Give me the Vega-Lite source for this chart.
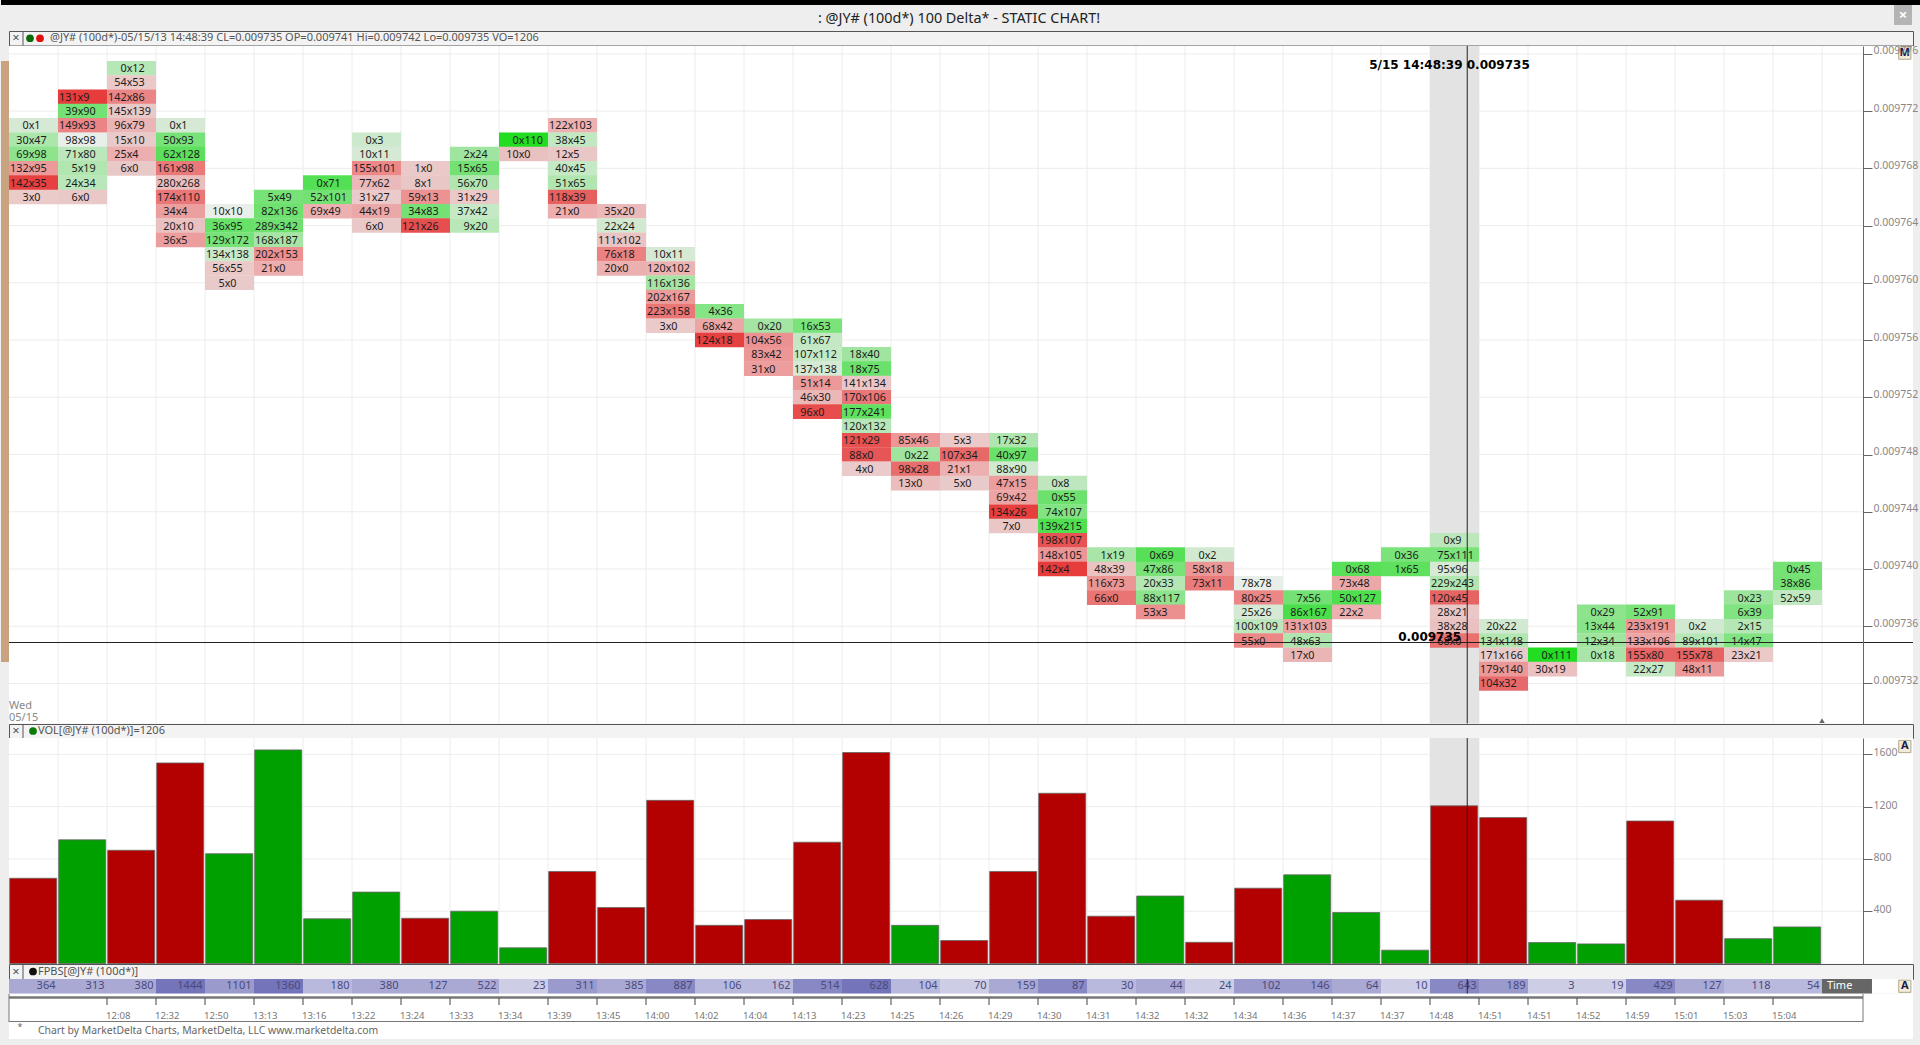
{"$schema":"https://vega.github.io/schema/vega-lite/v6.json","background":"#eeeeee","padding":0,"bounds":"flush","spacing":0,
"data":{"values":[{"k":1}]},
"config":{"view":{"stroke":null},"font":"Noto Sans","text":{"font":"Noto Sans"}},
"datasets":{
"edges":[{"e":0.5},{"e":1.5},{"e":2.5},{"e":3.5},{"e":4.5},{"e":5.5},{"e":6.5},{"e":7.5},{"e":8.5},{"e":9.5},{"e":10.5},{"e":11.5},{"e":12.5},{"e":13.5},{"e":14.5},{"e":15.5},{"e":16.5},{"e":17.5},{"e":18.5},{"e":19.5},{"e":20.5},{"e":21.5},{"e":22.5},{"e":23.5},{"e":24.5},{"e":25.5},{"e":26.5},{"e":27.5},{"e":28.5},{"e":29.5},{"e":30.5},{"e":31.5},{"e":32.5},{"e":33.5},{"e":34.5},{"e":35.5},{"e":36.5}],
"levels":[{"p":0.009776},{"p":0.009772},{"p":0.009768},{"p":0.009764},{"p":0.00976},{"p":0.009756},{"p":0.009752},{"p":0.009748},{"p":0.009744},{"p":0.00974},{"p":0.009736},{"p":0.009732}],
"vlevels":[{"p":400},{"p":800},{"p":1200},{"p":1600}],
"cells":[
{"bar":0,"price":0.009771,"cell":"0x1","delta":1},{"bar":0,"price":0.00977,"cell":"30x47","delta":17},{"bar":0,"price":0.009769,"cell":"69x98","delta":29},{"bar":0,"price":0.009768,"cell":"132x95","delta":-37},{"bar":0,"price":0.009767,"cell":"142x35","delta":-107},{"bar":0,"price":0.009766,"cell":"3x0","delta":-3},
{"bar":1,"price":0.009773,"cell":"131x9","delta":-122},{"bar":1,"price":0.009772,"cell":"39x90","delta":51},{"bar":1,"price":0.009771,"cell":"149x93","delta":-56},{"bar":1,"price":0.00977,"cell":"98x98","delta":0},{"bar":1,"price":0.009769,"cell":"71x80","delta":9},{"bar":1,"price":0.009768,"cell":"5x19","delta":14},{"bar":1,"price":0.009767,"cell":"24x34","delta":10},{"bar":1,"price":0.009766,"cell":"6x0","delta":-6},
{"bar":2,"price":0.009775,"cell":"0x12","delta":12},{"bar":2,"price":0.009774,"cell":"54x53","delta":-1},{"bar":2,"price":0.009773,"cell":"142x86","delta":-56},{"bar":2,"price":0.009772,"cell":"145x139","delta":-6},{"bar":2,"price":0.009771,"cell":"96x79","delta":-17},{"bar":2,"price":0.00977,"cell":"15x10","delta":-5},{"bar":2,"price":0.009769,"cell":"25x4","delta":-21},{"bar":2,"price":0.009768,"cell":"6x0","delta":-6},
{"bar":3,"price":0.009771,"cell":"0x1","delta":1},{"bar":3,"price":0.00977,"cell":"50x93","delta":43},{"bar":3,"price":0.009769,"cell":"62x128","delta":66},{"bar":3,"price":0.009768,"cell":"161x98","delta":-63},{"bar":3,"price":0.009767,"cell":"280x268","delta":-12},{"bar":3,"price":0.009766,"cell":"174x110","delta":-64},{"bar":3,"price":0.009765,"cell":"34x4","delta":-30},{"bar":3,"price":0.009764,"cell":"20x10","delta":-10},{"bar":3,"price":0.009763,"cell":"36x5","delta":-31},
{"bar":4,"price":0.009765,"cell":"10x10","delta":0},{"bar":4,"price":0.009764,"cell":"36x95","delta":59},{"bar":4,"price":0.009763,"cell":"129x172","delta":43},{"bar":4,"price":0.009762,"cell":"134x138","delta":4},{"bar":4,"price":0.009761,"cell":"56x55","delta":-1},{"bar":4,"price":0.00976,"cell":"5x0","delta":-5},
{"bar":5,"price":0.009766,"cell":"5x49","delta":44},{"bar":5,"price":0.009765,"cell":"82x136","delta":54},{"bar":5,"price":0.009764,"cell":"289x342","delta":53},{"bar":5,"price":0.009763,"cell":"168x187","delta":19},{"bar":5,"price":0.009762,"cell":"202x153","delta":-49},{"bar":5,"price":0.009761,"cell":"21x0","delta":-21},
{"bar":6,"price":0.009767,"cell":"0x71","delta":71},{"bar":6,"price":0.009766,"cell":"52x101","delta":49},{"bar":6,"price":0.009765,"cell":"69x49","delta":-20},
{"bar":7,"price":0.00977,"cell":"0x3","delta":3},{"bar":7,"price":0.009769,"cell":"10x11","delta":1},{"bar":7,"price":0.009768,"cell":"155x101","delta":-54},{"bar":7,"price":0.009767,"cell":"77x62","delta":-15},{"bar":7,"price":0.009766,"cell":"31x27","delta":-4},{"bar":7,"price":0.009765,"cell":"44x19","delta":-25},{"bar":7,"price":0.009764,"cell":"6x0","delta":-6},
{"bar":8,"price":0.009768,"cell":"1x0","delta":-1},{"bar":8,"price":0.009767,"cell":"8x1","delta":-7},{"bar":8,"price":0.009766,"cell":"59x13","delta":-46},{"bar":8,"price":0.009765,"cell":"34x83","delta":49},{"bar":8,"price":0.009764,"cell":"121x26","delta":-95},
{"bar":9,"price":0.009769,"cell":"2x24","delta":22},{"bar":9,"price":0.009768,"cell":"15x65","delta":50},{"bar":9,"price":0.009767,"cell":"56x70","delta":14},{"bar":9,"price":0.009766,"cell":"31x29","delta":-2},{"bar":9,"price":0.009765,"cell":"37x42","delta":5},{"bar":9,"price":0.009764,"cell":"9x20","delta":11},
{"bar":10,"price":0.00977,"cell":"0x110","delta":110},{"bar":10,"price":0.009769,"cell":"10x0","delta":-10},
{"bar":11,"price":0.009771,"cell":"122x103","delta":-19},{"bar":11,"price":0.00977,"cell":"38x45","delta":7},{"bar":11,"price":0.009769,"cell":"12x5","delta":-7},{"bar":11,"price":0.009768,"cell":"40x45","delta":5},{"bar":11,"price":0.009767,"cell":"51x65","delta":14},{"bar":11,"price":0.009766,"cell":"118x39","delta":-79},{"bar":11,"price":0.009765,"cell":"21x0","delta":-21},
{"bar":12,"price":0.009765,"cell":"35x20","delta":-15},{"bar":12,"price":0.009764,"cell":"22x24","delta":2},{"bar":12,"price":0.009763,"cell":"111x102","delta":-9},{"bar":12,"price":0.009762,"cell":"76x18","delta":-58},{"bar":12,"price":0.009761,"cell":"20x0","delta":-20},
{"bar":13,"price":0.009762,"cell":"10x11","delta":1},{"bar":13,"price":0.009761,"cell":"120x102","delta":-18},{"bar":13,"price":0.00976,"cell":"116x136","delta":20},{"bar":13,"price":0.009759,"cell":"202x167","delta":-35},{"bar":13,"price":0.009758,"cell":"223x158","delta":-65},{"bar":13,"price":0.009757,"cell":"3x0","delta":-3},
{"bar":14,"price":0.009758,"cell":"4x36","delta":32},{"bar":14,"price":0.009757,"cell":"68x42","delta":-26},{"bar":14,"price":0.009756,"cell":"124x18","delta":-106},
{"bar":15,"price":0.009757,"cell":"0x20","delta":20},{"bar":15,"price":0.009756,"cell":"104x56","delta":-48},{"bar":15,"price":0.009755,"cell":"83x42","delta":-41},{"bar":15,"price":0.009754,"cell":"31x0","delta":-31},
{"bar":16,"price":0.009757,"cell":"16x53","delta":37},{"bar":16,"price":0.009756,"cell":"61x67","delta":6},{"bar":16,"price":0.009755,"cell":"107x112","delta":5},{"bar":16,"price":0.009754,"cell":"137x138","delta":1},{"bar":16,"price":0.009753,"cell":"51x14","delta":-37},{"bar":16,"price":0.009752,"cell":"46x30","delta":-16},{"bar":16,"price":0.009751,"cell":"96x0","delta":-96},
{"bar":17,"price":0.009755,"cell":"18x40","delta":22},{"bar":17,"price":0.009754,"cell":"18x75","delta":57},{"bar":17,"price":0.009753,"cell":"141x134","delta":-7},{"bar":17,"price":0.009752,"cell":"170x106","delta":-64},{"bar":17,"price":0.009751,"cell":"177x241","delta":64},{"bar":17,"price":0.00975,"cell":"120x132","delta":12},{"bar":17,"price":0.009749,"cell":"121x29","delta":-92},{"bar":17,"price":0.009748,"cell":"88x0","delta":-88},{"bar":17,"price":0.009747,"cell":"4x0","delta":-4},
{"bar":18,"price":0.009749,"cell":"85x46","delta":-39},{"bar":18,"price":0.009748,"cell":"0x22","delta":22},{"bar":18,"price":0.009747,"cell":"98x28","delta":-70},{"bar":18,"price":0.009746,"cell":"13x0","delta":-13},
{"bar":19,"price":0.009749,"cell":"5x3","delta":-2},{"bar":19,"price":0.009748,"cell":"107x34","delta":-73},{"bar":19,"price":0.009747,"cell":"21x1","delta":-20},{"bar":19,"price":0.009746,"cell":"5x0","delta":-5},
{"bar":20,"price":0.009749,"cell":"17x32","delta":15},{"bar":20,"price":0.009748,"cell":"40x97","delta":57},{"bar":20,"price":0.009747,"cell":"88x90","delta":2},{"bar":20,"price":0.009746,"cell":"47x15","delta":-32},{"bar":20,"price":0.009745,"cell":"69x42","delta":-27},{"bar":20,"price":0.009744,"cell":"134x26","delta":-108},{"bar":20,"price":0.009743,"cell":"7x0","delta":-7},
{"bar":21,"price":0.009746,"cell":"0x8","delta":8},{"bar":21,"price":0.009745,"cell":"0x55","delta":55},{"bar":21,"price":0.009744,"cell":"74x107","delta":33},{"bar":21,"price":0.009743,"cell":"139x215","delta":76},{"bar":21,"price":0.009742,"cell":"198x107","delta":-91},{"bar":21,"price":0.009741,"cell":"148x105","delta":-43},{"bar":21,"price":0.00974,"cell":"142x4","delta":-138},
{"bar":22,"price":0.009741,"cell":"1x19","delta":18},{"bar":22,"price":0.00974,"cell":"48x39","delta":-9},{"bar":22,"price":0.009739,"cell":"116x73","delta":-43},{"bar":22,"price":0.009738,"cell":"66x0","delta":-66},
{"bar":23,"price":0.009741,"cell":"0x69","delta":69},{"bar":23,"price":0.00974,"cell":"47x86","delta":39},{"bar":23,"price":0.009739,"cell":"20x33","delta":13},{"bar":23,"price":0.009738,"cell":"88x117","delta":29},{"bar":23,"price":0.009737,"cell":"53x3","delta":-50},
{"bar":24,"price":0.009741,"cell":"0x2","delta":2},{"bar":24,"price":0.00974,"cell":"58x18","delta":-40},{"bar":24,"price":0.009739,"cell":"73x11","delta":-62},
{"bar":25,"price":0.009739,"cell":"78x78","delta":0},{"bar":25,"price":0.009738,"cell":"80x25","delta":-55},{"bar":25,"price":0.009737,"cell":"25x26","delta":1},{"bar":25,"price":0.009736,"cell":"100x109","delta":9},{"bar":25,"price":0.009735,"cell":"55x0","delta":-55},
{"bar":26,"price":0.009738,"cell":"7x56","delta":49},{"bar":26,"price":0.009737,"cell":"86x167","delta":81},{"bar":26,"price":0.009736,"cell":"131x103","delta":-28},{"bar":26,"price":0.009735,"cell":"48x63","delta":15},{"bar":26,"price":0.009734,"cell":"17x0","delta":-17},
{"bar":27,"price":0.00974,"cell":"0x68","delta":68},{"bar":27,"price":0.009739,"cell":"73x48","delta":-25},{"bar":27,"price":0.009738,"cell":"50x127","delta":77},{"bar":27,"price":0.009737,"cell":"22x2","delta":-20},
{"bar":28,"price":0.009741,"cell":"0x36","delta":36},{"bar":28,"price":0.00974,"cell":"1x65","delta":64},
{"bar":29,"price":0.009742,"cell":"0x9","delta":9},{"bar":29,"price":0.009741,"cell":"75x111","delta":36},{"bar":29,"price":0.00974,"cell":"95x96","delta":1},{"bar":29,"price":0.009739,"cell":"229x243","delta":14},{"bar":29,"price":0.009738,"cell":"120x45","delta":-75},{"bar":29,"price":0.009737,"cell":"28x21","delta":-7},{"bar":29,"price":0.009736,"cell":"38x28","delta":-10},{"bar":29,"price":0.009735,"cell":"68x0","delta":-68},
{"bar":30,"price":0.009736,"cell":"20x22","delta":2},{"bar":30,"price":0.009735,"cell":"134x148","delta":14},{"bar":30,"price":0.009734,"cell":"171x166","delta":-5},{"bar":30,"price":0.009733,"cell":"179x140","delta":-39},{"bar":30,"price":0.009732,"cell":"104x32","delta":-72},
{"bar":31,"price":0.009734,"cell":"0x111","delta":111},{"bar":31,"price":0.009733,"cell":"30x19","delta":-11},
{"bar":32,"price":0.009737,"cell":"0x29","delta":29},{"bar":32,"price":0.009736,"cell":"13x44","delta":31},{"bar":32,"price":0.009735,"cell":"12x34","delta":22},{"bar":32,"price":0.009734,"cell":"0x18","delta":18},
{"bar":33,"price":0.009737,"cell":"52x91","delta":39},{"bar":33,"price":0.009736,"cell":"233x191","delta":-42},{"bar":33,"price":0.009735,"cell":"133x106","delta":-27},{"bar":33,"price":0.009734,"cell":"155x80","delta":-75},{"bar":33,"price":0.009733,"cell":"22x27","delta":5},
{"bar":34,"price":0.009736,"cell":"0x2","delta":2},{"bar":34,"price":0.009735,"cell":"89x101","delta":12},{"bar":34,"price":0.009734,"cell":"155x78","delta":-77},{"bar":34,"price":0.009733,"cell":"48x11","delta":-37},
{"bar":35,"price":0.009738,"cell":"0x23","delta":23},{"bar":35,"price":0.009737,"cell":"6x39","delta":33},{"bar":35,"price":0.009736,"cell":"2x15","delta":13},{"bar":35,"price":0.009735,"cell":"14x47","delta":33},{"bar":35,"price":0.009734,"cell":"23x21","delta":-2},
{"bar":36,"price":0.00974,"cell":"0x45","delta":45},{"bar":36,"price":0.009739,"cell":"38x86","delta":48},{"bar":36,"price":0.009738,"cell":"52x59","delta":7}
],
"bars":[{"bar":0,"vol":652,"side":"down"},{"bar":1,"vol":946,"side":"up"},{"bar":2,"vol":866,"side":"down"},{"bar":3,"vol":1534,"side":"down"},{"bar":4,"vol":840,"side":"up"},{"bar":5,"vol":1634,"side":"up"},{"bar":6,"vol":342,"side":"up"},{"bar":7,"vol":546,"side":"up"},{"bar":8,"vol":346,"side":"down"},{"bar":9,"vol":400,"side":"up"},{"bar":10,"vol":120,"side":"up"},{"bar":11,"vol":704,"side":"down"},{"bar":12,"vol":428,"side":"down"},{"bar":13,"vol":1248,"side":"down"},{"bar":14,"vol":292,"side":"down"},{"bar":15,"vol":336,"side":"down"},{"bar":16,"vol":928,"side":"down"},{"bar":17,"vol":1614,"side":"down"},{"bar":18,"vol":292,"side":"up"},{"bar":19,"vol":176,"side":"down"},{"bar":20,"vol":704,"side":"down"},{"bar":21,"vol":1302,"side":"down"},{"bar":22,"vol":362,"side":"down"},{"bar":23,"vol":516,"side":"up"},{"bar":24,"vol":162,"side":"down"},{"bar":25,"vol":576,"side":"down"},{"bar":26,"vol":678,"side":"up"},{"bar":27,"vol":390,"side":"up"},{"bar":28,"vol":102,"side":"up"},{"bar":29,"vol":1206,"side":"down"},{"bar":30,"vol":1116,"side":"down"},{"bar":31,"vol":160,"side":"up"},{"bar":32,"vol":150,"side":"up"},{"bar":33,"vol":1090,"side":"down"},{"bar":34,"vol":484,"side":"down"},{"bar":35,"vol":190,"side":"up"},{"bar":36,"vol":280,"side":"up"}],
"strip":[{"bar":0,"net":364,"shade":3},{"bar":1,"net":313,"shade":3},{"bar":2,"net":380,"shade":3},{"bar":3,"net":1444,"shade":6},{"bar":4,"net":1101,"shade":4},{"bar":5,"net":1360,"shade":6},{"bar":6,"net":180,"shade":2},{"bar":7,"net":380,"shade":3},{"bar":8,"net":127,"shade":3},{"bar":9,"net":522,"shade":3},{"bar":10,"net":23,"shade":1},{"bar":11,"net":311,"shade":4},{"bar":12,"net":385,"shade":3},{"bar":13,"net":887,"shade":5},{"bar":14,"net":106,"shade":2},{"bar":15,"net":162,"shade":2},{"bar":16,"net":514,"shade":5},{"bar":17,"net":628,"shade":6},{"bar":18,"net":104,"shade":2},{"bar":19,"net":70,"shade":1},{"bar":20,"net":159,"shade":3},{"bar":21,"net":87,"shade":5},{"bar":22,"net":30,"shade":2},{"bar":23,"net":44,"shade":3},{"bar":24,"net":24,"shade":1},{"bar":25,"net":102,"shade":4},{"bar":26,"net":146,"shade":4},{"bar":27,"net":64,"shade":3},{"bar":28,"net":10,"shade":1},{"bar":29,"net":643,"shade":5},{"bar":30,"net":189,"shade":4},{"bar":31,"net":3,"shade":1},{"bar":32,"net":19,"shade":1},{"bar":33,"net":429,"shade":5},{"bar":34,"net":127,"shade":3},{"bar":35,"net":118,"shade":2},{"bar":36,"net":54,"shade":2}],
"times":[{"edge":1.5,"time":"12:08"},{"edge":2.5,"time":"12:32"},{"edge":3.5,"time":"12:50"},{"edge":4.5,"time":"13:13"},{"edge":5.5,"time":"13:16"},{"edge":6.5,"time":"13:22"},{"edge":7.5,"time":"13:24"},{"edge":8.5,"time":"13:33"},{"edge":9.5,"time":"13:34"},{"edge":10.5,"time":"13:39"},{"edge":11.5,"time":"13:45"},{"edge":12.5,"time":"14:00"},{"edge":13.5,"time":"14:02"},{"edge":14.5,"time":"14:04"},{"edge":15.5,"time":"14:13"},{"edge":16.5,"time":"14:23"},{"edge":17.5,"time":"14:25"},{"edge":18.5,"time":"14:26"},{"edge":19.5,"time":"14:29"},{"edge":20.5,"time":"14:30"},{"edge":21.5,"time":"14:31"},{"edge":22.5,"time":"14:32"},{"edge":23.5,"time":"14:32"},{"edge":24.5,"time":"14:34"},{"edge":25.5,"time":"14:36"},{"edge":26.5,"time":"14:37"},{"edge":27.5,"time":"14:37"},{"edge":28.5,"time":"14:48"},{"edge":29.5,"time":"14:51"},{"edge":30.5,"time":"14:51"},{"edge":31.5,"time":"14:52"},{"edge":32.5,"time":"14:59"},{"edge":33.5,"time":"15:01"},{"edge":34.5,"time":"15:03"},{"edge":35.5,"time":"15:04"}]
},
"vconcat":[
{"width":1904,"height":31,"layer":[
{"mark":{"type":"rect","color":"#000000"},"encoding":{"x":{"datum":0,"type":"quantitative","scale":{"domain":[8,1912]},"axis":null},"x2":{"datum":1920},"y":{"datum":0,"type":"quantitative","scale":{"domain":[31,0]},"axis":null},"y2":{"datum":5}}},
{"mark":{"type":"rect","color":"#b4b4b4"},"encoding":{"x":{"datum":1893,"type":"quantitative","scale":{"domain":[8,1912]},"axis":null},"x2":{"datum":1911},"y":{"datum":5,"type":"quantitative","scale":{"domain":[31,0]},"axis":null},"y2":{"datum":25}}},
{"mark":{"type":"text","color":"#ffffff","fontSize":15,"fontWeight":"bold"},"encoding":{"x":{"datum":1902,"type":"quantitative","scale":{"domain":[8,1912]},"axis":null},"y":{"datum":15,"type":"quantitative","scale":{"domain":[31,0]},"axis":null},"text":{"value":"×"}}},
{"mark":{"type":"text","color":"#222222","fontSize":14.4},"encoding":{"x":{"datum":958,"type":"quantitative","scale":{"domain":[8,1912]},"axis":null},"y":{"datum":19,"type":"quantitative","scale":{"domain":[31,0]},"axis":null},"text":{"value":": @JY# (100d*) 100 Delta* - STATIC CHART!"}}}
]},
{"width":1904,"height":14.5,"view":{"fill":"#f3f3f3","stroke":"#555555"},"layer":[
{"mark":{"type":"rule","color":"#555555"},"encoding":{"x":{"datum":22,"type":"quantitative","scale":{"domain":[8,1912]},"axis":null}}},
{"mark":{"type":"text","color":"#555555","fontSize":13},"encoding":{"x":{"datum":15,"type":"quantitative","scale":{"domain":[8,1912]},"axis":null},"text":{"value":"×"}}},
{"mark":{"type":"point","filled":true,"color":"#0b6b0b","size":60,"opacity":1},"encoding":{"x":{"datum":29,"type":"quantitative","scale":{"domain":[8,1912]},"axis":null}}},
{"mark":{"type":"point","filled":true,"color":"#e01010","size":60,"opacity":1},"encoding":{"x":{"datum":39,"type":"quantitative","scale":{"domain":[8,1912]},"axis":null}}},
{"mark":{"type":"text","color":"#555555","fontSize":11,"align":"left"},"encoding":{"x":{"datum":49,"type":"quantitative","scale":{"domain":[8,1912]},"axis":null},"text":{"value":"@JY# (100d*)-05/15/13 14:48:39 CL=0.009735 OP=0.009741 Hi=0.009742 Lo=0.009735 VO=1206"}}}
]},
{"width":1854,"height":677.5,"view":{"fill":"#ffffff"},"layer":[
{"mark":{"type":"rect","color":"#ffffff"},"encoding":{"x":{"datum":37.3367,"type":"quantitative","scale":{"domain":[-0.5,37.3367]},"axis":null},"x2":{"datum":38.3571}}},
{"mark":{"type":"rect","color":"#c9a27f"},"encoding":{"x":{"datum":-0.6633,"type":"quantitative","scale":{"domain":[-0.5,37.3367]},"axis":null},"x2":{"datum":-0.5},"y":{"datum":0.0097755,"type":"quantitative","scale":{"domain":[0.0097292,0.00977655]},"axis":{"orient":"right","values":[0.009776,0.009772,0.009768,0.009764,0.00976,0.009756,0.009752,0.009748,0.009744,0.00974,0.009736,0.009732],"format":".6f","grid":false,"tickSize":9,"tickColor":"#666666","domainColor":"#666666","labelColor":"#888888","labelFontSize":10.5,"labelFont":"Noto Sans","labelPadding":1,"labelOffset":-3,"title":null,"zindex":1}},"y2":{"datum":0.0097335}}},
{"data":{"name":"edges"},"mark":{"type":"rule","color":"#ececec"},"encoding":{"x":{"field":"e","type":"quantitative","scale":{"domain":[-0.5,37.3367]},"axis":null}}},
{"data":{"name":"levels"},"mark":{"type":"rule","color":"#ececec"},"encoding":{"y":{"field":"p","type":"quantitative","scale":{"domain":[0.0097292,0.00977655]}}}},
{"mark":{"type":"rect","color":"#e3e3e3"},"encoding":{"x":{"datum":28.5,"type":"quantitative","scale":{"domain":[-0.5,37.3367]},"axis":null},"x2":{"datum":29.5}}},
{"data":{"name":"cells"},"mark":{"type":"tick","orient":"horizontal","thickness":14.6,"size":49,"bandSize":49,"opacity":1},"encoding":{"x":{"field":"bar","type":"quantitative","scale":{"domain":[-0.5,37.3367]},"axis":null},"y":{"field":"price","type":"quantitative","scale":{"domain":[0.0097292,0.00977655]}},"color":{"field":"delta","type":"quantitative","legend":null,"scale":{"domain":[-110,-75,-50,-30,-20,-5,-1,0,1,5,20,36,50,70,110],"range":["#e63c3c","#e76464","#ec8f8f","#ec9f9f","#ecb0b0","#e9caca","#ecc9c9","#e8eee8","#d5e9d5","#c5e8c5","#a4e5a4","#7ae37a","#74e174","#55e055","#22dd22"],"clamp":true}}}},
{"data":{"name":"cells"},"mark":{"type":"text","fontSize":10.8,"color":"#1c1c1c","dy":1,"dx":{"expr":"(length(datum.cell)-1-2*indexof(datum.cell,'x'))*3.1-2"}},"encoding":{"x":{"field":"bar","type":"quantitative","scale":{"domain":[-0.5,37.3367]},"axis":null},"y":{"field":"price","type":"quantitative","scale":{"domain":[0.0097292,0.00977655]}},"text":{"field":"cell"}}},
{"mark":{"type":"rule","color":"#222222","strokeWidth":1},"encoding":{"x":{"datum":-0.5,"type":"quantitative","scale":{"domain":[-0.5,37.3367]},"axis":null},"x2":{"datum":38.3571},"y":{"datum":0.00973486,"type":"quantitative","scale":{"domain":[0.0097292,0.00977655]}}}},
{"mark":{"type":"rule","color":"#222222","strokeWidth":1},"encoding":{"x":{"datum":29.26,"type":"quantitative","scale":{"domain":[-0.5,37.3367]},"axis":null}}},
{"mark":{"type":"text","font":"DejaVu Sans","fontWeight":"bold","fontSize":12,"color":"#000000","align":"left","dy":1},"encoding":{"x":{"datum":27.26,"type":"quantitative","scale":{"domain":[-0.5,37.3367]},"axis":null},"y":{"datum":0.0097753,"type":"quantitative","scale":{"domain":[0.0097292,0.00977655]}},"text":{"value":"5/15 14:48:39  0.009735"}}},
{"mark":{"type":"text","font":"DejaVu Sans","fontWeight":"bold","fontSize":12,"color":"#000000","align":"left"},"encoding":{"x":{"datum":27.85,"type":"quantitative","scale":{"domain":[-0.5,37.3367]},"axis":null},"y":{"datum":0.00973528,"type":"quantitative","scale":{"domain":[0.0097292,0.00977655]}},"text":{"value":"0.009735"}}},
{"mark":{"type":"text","fontSize":11,"color":"#888888","align":"left"},"encoding":{"x":{"datum":-0.5,"type":"quantitative","scale":{"domain":[-0.5,37.3367]},"axis":null},"y":{"datum":0.0097304,"type":"quantitative","scale":{"domain":[0.0097292,0.00977655]}},"text":{"value":"Wed"}}},
{"mark":{"type":"text","fontSize":11,"color":"#888888","align":"left"},"encoding":{"x":{"datum":-0.5,"type":"quantitative","scale":{"domain":[-0.5,37.3367]},"axis":null},"y":{"datum":0.0097296,"type":"quantitative","scale":{"domain":[0.0097292,0.00977655]}},"text":{"value":"05/15"}}},
{"mark":{"type":"point","shape":"triangle-up","filled":true,"color":"#666666","size":30,"opacity":1},"encoding":{"x":{"datum":36.5,"type":"quantitative","scale":{"domain":[-0.5,37.3367]},"axis":null},"y":{"datum":0.0097294,"type":"quantitative","scale":{"domain":[0.0097292,0.00977655]}}}},
{"mark":{"type":"point","shape":"square","filled":true,"color":"#f1ebd9","stroke":"#b5a888","strokeWidth":1,"size":150,"opacity":1},"encoding":{"x":{"datum":38.19,"type":"quantitative","scale":{"domain":[-0.5,37.3367]},"axis":null},"y":{"datum":0.00977605,"type":"quantitative","scale":{"domain":[0.0097292,0.00977655]}}}},
{"mark":{"type":"text","fontSize":11,"fontWeight":"bold","color":"#1a1a4a"},"encoding":{"x":{"datum":38.19,"type":"quantitative","scale":{"domain":[-0.5,37.3367]},"axis":null},"y":{"datum":0.00977605,"type":"quantitative","scale":{"domain":[0.0097292,0.00977655]}},"text":{"value":"M"}}}
]},
{"width":1904,"height":14,"view":{"fill":"#f3f3f3","stroke":"#555555"},"layer":[
{"mark":{"type":"rule","color":"#555555"},"encoding":{"x":{"datum":22,"type":"quantitative","scale":{"domain":[8,1912]},"axis":null}}},
{"mark":{"type":"text","color":"#555555","fontSize":13},"encoding":{"x":{"datum":15,"type":"quantitative","scale":{"domain":[8,1912]},"axis":null},"text":{"value":"×"}}},
{"mark":{"type":"point","filled":true,"color":"#0b7a0b","size":60,"opacity":1},"encoding":{"x":{"datum":32,"type":"quantitative","scale":{"domain":[8,1912]},"axis":null}}},
{"mark":{"type":"text","color":"#555555","fontSize":11,"align":"left"},"encoding":{"x":{"datum":37,"type":"quantitative","scale":{"domain":[8,1912]},"axis":null},"text":{"value":"VOL[@JY# (100d*)]=1206"}}}
]},
{"width":1854,"height":225.5,"view":{"fill":"#ffffff"},"layer":[
{"mark":{"type":"rect","color":"#ffffff"},"encoding":{"x":{"datum":37.3367,"type":"quantitative","scale":{"domain":[-0.5,37.3367],"padding":0},"axis":null},"x2":{"datum":38.3571}}},
{"data":{"name":"edges"},"mark":{"type":"rule","color":"#ececec"},"encoding":{"x":{"field":"e","type":"quantitative","scale":{"domain":[-0.5,37.3367],"padding":0},"axis":null}}},
{"data":{"name":"vlevels"},"mark":{"type":"rule","color":"#ececec"},"encoding":{"y":{"field":"p","type":"quantitative","scale":{"domain":[0,1725]},"axis":{"orient":"right","values":[400,800,1200,1600],"format":"d","grid":false,"tickSize":9,"tickColor":"#666666","domainColor":"#666666","labelColor":"#888888","labelFontSize":10.5,"labelFont":"Noto Sans","labelPadding":1,"labelOffset":-1.5,"title":null,"zindex":1}}}},
{"mark":{"type":"rect","color":"#e3e3e3"},"encoding":{"x":{"datum":28.5,"type":"quantitative","scale":{"domain":[-0.5,37.3367],"padding":0},"axis":null},"x2":{"datum":29.5}}},
{"data":{"name":"bars"},"mark":{"type":"bar","size":47,"stroke":"#666666","strokeWidth":0.8,"xOffset":-0.3},"encoding":{"x":{"field":"bar","type":"quantitative","scale":{"domain":[-0.5,37.3367],"padding":0},"axis":null},"y":{"field":"vol","type":"quantitative","scale":{"domain":[0,1725]}},"color":{"field":"side","type":"nominal","legend":null,"scale":{"domain":["up","down"],"range":["#00a000","#b30000"]}}}},
{"mark":{"type":"rule","color":"#222222","strokeWidth":1},"encoding":{"x":{"datum":29.26,"type":"quantitative","scale":{"domain":[-0.5,37.3367],"padding":0},"axis":null}}},
{"mark":{"type":"point","shape":"square","filled":true,"color":"#f1ebd9","stroke":"#b5a888","strokeWidth":1,"size":150,"opacity":1},"encoding":{"x":{"datum":38.19,"type":"quantitative","scale":{"domain":[-0.5,37.3367],"padding":0},"axis":null},"y":{"datum":1660,"type":"quantitative","scale":{"domain":[0,1725]}}}},
{"mark":{"type":"text","fontSize":11,"fontWeight":"bold","color":"#1a1a4a"},"encoding":{"x":{"datum":38.19,"type":"quantitative","scale":{"domain":[-0.5,37.3367],"padding":0},"axis":null},"y":{"datum":1660,"type":"quantitative","scale":{"domain":[0,1725]}},"text":{"value":"A"}}}
]},
{"width":1904,"height":15,"view":{"fill":"#f3f3f3","stroke":"#555555"},"layer":[
{"mark":{"type":"rule","color":"#555555"},"encoding":{"x":{"datum":22,"type":"quantitative","scale":{"domain":[8,1912]},"axis":null}}},
{"mark":{"type":"text","color":"#555555","fontSize":13},"encoding":{"x":{"datum":15,"type":"quantitative","scale":{"domain":[8,1912]},"axis":null},"text":{"value":"×"}}},
{"mark":{"type":"point","filled":true,"color":"#111111","size":60,"opacity":1},"encoding":{"x":{"datum":32,"type":"quantitative","scale":{"domain":[8,1912]},"axis":null}}},
{"mark":{"type":"text","color":"#555555","fontSize":11,"align":"left"},"encoding":{"x":{"datum":37,"type":"quantitative","scale":{"domain":[8,1912]},"axis":null},"text":{"value":"FPBS[@JY# (100d*)]"}}}
]},
{"width":1854,"height":14.5,"view":{"fill":"#ffffff"},"layer":[
{"mark":{"type":"rect","color":"#ffffff"},"encoding":{"x":{"datum":37.3367,"type":"quantitative","scale":{"domain":[-0.5,37.3367]},"axis":null},"x2":{"datum":38.3571}}},
{"data":{"name":"strip"},"mark":{"type":"tick","orient":"horizontal","thickness":14.5,"size":49,"bandSize":49,"opacity":1},"encoding":{"x":{"field":"bar","type":"quantitative","scale":{"domain":[-0.5,37.3367]},"axis":null},"color":{"field":"shade","type":"ordinal","legend":null,"scale":{"domain":[1,2,3,4,5,6],"range":["#cdcde6","#b9b9dd","#a9a9d4","#9a9acd","#8888c4","#7474ba"]}}}},
{"data":{"name":"strip"},"mark":{"type":"text","align":"right","dx":22,"fontSize":11,"color":"#4a4a7c"},"encoding":{"x":{"field":"bar","type":"quantitative","scale":{"domain":[-0.5,37.3367]},"axis":null},"text":{"field":"net"}}},
{"mark":{"type":"rect","color":"#666666"},"encoding":{"x":{"datum":36.5,"type":"quantitative","scale":{"domain":[-0.5,37.3367]},"axis":null},"x2":{"datum":37.52}}},
{"mark":{"type":"text","align":"left","fontSize":11,"color":"#ffffff"},"encoding":{"x":{"datum":36.6,"type":"quantitative","scale":{"domain":[-0.5,37.3367]},"axis":null},"text":{"value":"Time"}}},
{"mark":{"type":"rule","color":"#222222","strokeWidth":1},"encoding":{"x":{"datum":29.26,"type":"quantitative","scale":{"domain":[-0.5,37.3367]},"axis":null}}},
{"mark":{"type":"point","shape":"square","filled":true,"color":"#f1ebd9","stroke":"#b5a888","strokeWidth":1,"size":150,"opacity":1},"encoding":{"x":{"datum":38.19,"type":"quantitative","scale":{"domain":[-0.5,37.3367]},"axis":null}}},
{"mark":{"type":"text","fontSize":11,"fontWeight":"bold","color":"#1a1a4a"},"encoding":{"x":{"datum":38.19,"type":"quantitative","scale":{"domain":[-0.5,37.3367]},"axis":null},"text":{"value":"A"}}}
]},
{"width":1854,"height":28,"view":{"fill":"#ffffff"},"layer":[
{"mark":{"type":"rect","color":"#ffffff"},"encoding":{"x":{"datum":37.3367,"type":"quantitative","scale":{"domain":[-0.5,37.3367]},"axis":null},"x2":{"datum":38.3571}}},
{"mark":{"type":"rule","color":"#777777","strokeWidth":2.5},"encoding":{"y":{"datum":3.5,"type":"quantitative","scale":{"domain":[28,0]},"axis":null}}},
{"mark":{"type":"rule","color":"#777777","strokeWidth":1},"encoding":{"y":{"datum":27.5,"type":"quantitative","scale":{"domain":[28,0]},"axis":null}}},
{"mark":{"type":"rule","color":"#777777","strokeWidth":1},"encoding":{"x":{"datum":-0.5,"type":"quantitative","scale":{"domain":[-0.5,37.3367]},"axis":null}}},
{"mark":{"type":"rule","color":"#777777","strokeWidth":1},"encoding":{"x":{"datum":37.3367,"type":"quantitative","scale":{"domain":[-0.5,37.3367]},"axis":null}}},
{"data":{"name":"times"},"mark":{"type":"rule","color":"#444444"},"encoding":{"x":{"field":"edge","type":"quantitative","scale":{"domain":[-0.5,37.3367]},"axis":null},"y":{"datum":4,"type":"quantitative","scale":{"domain":[28,0]},"axis":null},"y2":{"datum":11}}},
{"data":{"name":"times"},"mark":{"type":"text","align":"left","fontSize":9.6,"color":"#777777","dx":-1},"encoding":{"x":{"field":"edge","type":"quantitative","scale":{"domain":[-0.5,37.3367]},"axis":null},"y":{"datum":22,"type":"quantitative","scale":{"domain":[28,0]},"axis":null},"text":{"field":"time"}}}
]},
{"width":1904,"height":17,"view":{"fill":"#ffffff"},"layer":[
{"mark":{"type":"text","color":"#666666","fontSize":10.4,"align":"left"},"encoding":{"x":{"datum":37,"type":"quantitative","scale":{"domain":[8,1912]},"axis":null},"text":{"value":"Chart by MarketDelta Charts, MarketDelta, LLC www.marketdelta.com"}}},
{"mark":{"type":"text","color":"#666666","fontSize":9,"dy":-4},"encoding":{"x":{"datum":19,"type":"quantitative","scale":{"domain":[8,1912]},"axis":null},"text":{"value":"*"}}},
{"mark":{"type":"text","color":"#666666","fontSize":9,"dy":4},"encoding":{"x":{"datum":19,"type":"quantitative","scale":{"domain":[8,1912]},"axis":null},"text":{"value":"_"}}}
]},
{"width":1904,"height":8,"layer":[
{"mark":{"type":"rect","color":"#eeeeee"},"encoding":{"x":{"datum":0,"type":"quantitative","scale":{"domain":[8,1912]},"axis":null},"x2":{"datum":1920}}}
]}
]}
